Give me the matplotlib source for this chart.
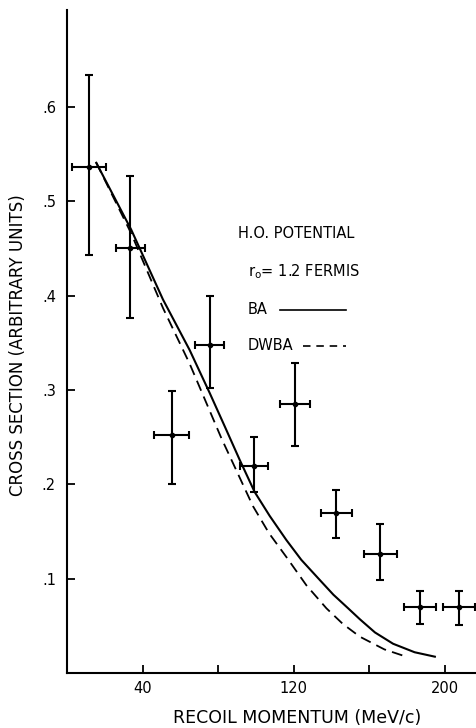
import numpy as np
import matplotlib
matplotlib.use("Agg")
import matplotlib.pyplot as plt

# measured points (recoil momentum, cross section) with error bars
p = [11.6, 33.6, 55.5, 75.5, 99.0, 120.5, 142.6, 165.9, 186.8, 207.6]
sig = [0.536, 0.451, 0.252, 0.348, 0.220, 0.285, 0.170, 0.126, 0.070, 0.070]
sig_hi = [0.634, 0.527, 0.299, 0.400, 0.250, 0.329, 0.194, 0.158, 0.087, 0.087]
sig_lo = [0.443, 0.376, 0.200, 0.302, 0.192, 0.241, 0.1435, 0.099, 0.052, 0.051]
p_err = [8.8, 7.8, 9.3, 7.5, 7.5, 8.0, 8.2, 8.5, 8.7, 8.5]

# BA curve (solid)
ba_p = [15.5, 34.0, 50.8, 64.9, 75.5, 83.6, 91.4, 99.3, 107.3, 116.1, 124.0,
        133.8, 141.0, 148.8, 155.0, 163.0, 172.6, 184.0, 194.7]
ba_s = [0.541, 0.470, 0.396, 0.3425, 0.297, 0.261, 0.226, 0.192, 0.1665, 0.141,
        0.120, 0.0986, 0.083, 0.0686, 0.057, 0.043, 0.031, 0.022, 0.0173]
# DWBA curve (dashed)
dw_p = [15.5, 34.0, 50.8, 64.9, 81.7, 98.4, 107.0, 116.1, 126.7, 137.3, 146.0,
        155.0, 168.0, 180.6]
dw_s = [0.541, 0.466, 0.387, 0.328, 0.249, 0.177, 0.148, 0.123, 0.093, 0.0686,
        0.052, 0.0385, 0.025, 0.0166]

xticks = [40, 80, 120, 160, 200]
xticklabels = ["40", "", "120", "", "200"]
yticks = [0.1, 0.2, 0.3, 0.4, 0.5, 0.6]
yticklabels = [".1", ".2", ".3", ".4", ".5", ".6"]

fig = plt.figure(figsize=(4.77, 7.28), dpi=100)
ax = fig.add_axes([67/477, 55/728, 410/477, 663/728])

ax.plot(ba_p, ba_s, color="black", lw=1.5)
ax.plot(dw_p, dw_s, color="black", lw=1.3, dashes=(6, 3.5))

yerr = [np.array(sig) - np.array(sig_lo), np.array(sig_hi) - np.array(sig)]
ax.errorbar(p, sig, yerr=yerr, xerr=p_err, fmt="o", color="black", ms=3,
            elinewidth=1.5, capsize=3, capthick=1.5)

ax.set_xlim(0, 217)
ax.set_ylim(0, 0.703)
ax.set_xticks(xticks)
ax.set_xticklabels(xticklabels)
ax.set_yticks(yticks)
ax.set_yticklabels(yticklabels)
ax.tick_params(direction="in", length=6, width=1.3, labelsize=10.5, pad=6)
ax.tick_params(axis="y", pad=8)
for s in ["top", "right"]:
    ax.spines[s].set_visible(False)
for s in ["left", "bottom"]:
    ax.spines[s].set_linewidth(1.5)

# key
ax.text(90.3, 0.466, "H.O. POTENTIAL", fontsize=10.5, va="center", ha="left")
ax.text(95.6, 0.4256, r"r$_{\mathrm{o}}$= 1.2 FERMIS", fontsize=10.5, va="center", ha="left")
ax.text(95.6, 0.385, "BA", fontsize=10.5, va="center", ha="left")
ax.plot([112.6, 147.5], [0.385, 0.385], color="black", lw=1.2)
ax.text(95.6, 0.347, "DWBA", fontsize=10.5, va="center", ha="left")
ax.plot([124.8, 147.5], [0.347, 0.347], color="black", lw=1.2, dashes=(4.5, 3.5))

fig.text(18/477, 1 - 345/728, "CROSS SECTION (ARBITRARY UNITS)", rotation=90,
         ha="center", va="center", fontsize=12)
fig.text(297/477, 1 - 718/728, "RECOIL MOMENTUM (MeV/c)", ha="center",
         va="center", fontsize=12.5)

fig.savefig("out.png", dpi=100)
